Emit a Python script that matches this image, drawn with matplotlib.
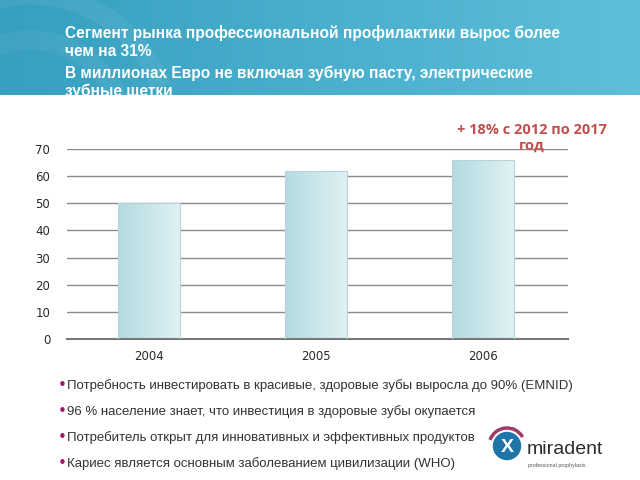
import numpy as np
import matplotlib.pyplot as plt
from matplotlib.patches import Circle, Arc
from matplotlib.colors import LinearSegmentedColormap

years = ["2004", "2005", "2006"]
sales = [50, 62, 66]
yticks = [0, 10, 20, 30, 40, 50, 60, 70]

title_lines = [
    "Сегмент рынка профессиональной профилактики вырос более",
    "чем на 31%",
    "В миллионах Евро не включая зубную пасту, электрические",
    "зубные щетки",
]
note = "+ 18% с 2012 по 2017\nгод"
bullets = [
    "Потребность инвестировать в красивые, здоровые зубы выросла до 90% (EMNID)",
    "96 % население знает, что инвестиция в здоровые зубы окупается",
    "Потребитель открыт для инновативных и эффективных продуктов",
    "Кариес является основным заболеванием цивилизации (WHO)",
]

fig = plt.figure(figsize=(6.4, 4.8), dpi=100)
fig.patch.set_facecolor("white")

# header band with gradient
hdr = fig.add_axes([0, 1 - 95 / 480, 1, 95 / 480])
grad = np.linspace(0, 1, 256).reshape(1, -1)
hcmap = LinearSegmentedColormap.from_list("hdr", ["#379fbf", "#48afcd", "#5fbfd8"])
hdr.imshow(grad, cmap=hcmap, aspect="auto", extent=[0, 640, 0, 95])
for r, a in [(140, 0.06), (95, 0.05)]:
    hdr.add_patch(Arc((30, -40), 2 * r, 2 * r, theta1=20, theta2=175, lw=14, color="white", alpha=a))
hdr.set_xlim(0, 640)
hdr.set_ylim(0, 95)
hdr.axis("off")

ty = [33, 52, 73, 91]
for line, y in zip(title_lines, ty):
    fig.text(65 / 640, 1 - y / 480, line, color="white", fontsize=11.2, fontweight="bold",
             family="Liberation Sans", va="center", ha="left")

# chart
ax = fig.add_axes([67 / 640, 1 - 339 / 480, 501 / 640, 190 / 480])
x = np.arange(len(years))
bars = ax.bar(x, sales, width=0.37, color="none", edgecolor="#b8d4d9", lw=0.8, zorder=3)
bcmap = LinearSegmentedColormap.from_list("bar", ["#b3dbe1", "#c9e6ea", "#e0f1f3"])
for b in bars:
    x0, w, h = b.get_x(), b.get_width(), b.get_height()
    im = ax.imshow(grad, cmap=bcmap, aspect="auto", extent=[x0, x0 + w, 0, h], zorder=2)
    im.set_clip_path(b)
ax.set_xlim(-0.49, 2.51)
ax.set_ylim(0, 70)
ax.set_yticks(yticks)
ax.set_xticks(x)
ax.set_xticklabels(years)
ax.grid(axis="y", color="#8c8c8c", lw=1.0, zorder=1)
ax.set_axisbelow(True)
for s in ["top", "right", "left"]:
    ax.spines[s].set_visible(False)
ax.spines["bottom"].set_color("#777777")
ax.spines["bottom"].set_linewidth(1.5)
ax.tick_params(length=0, labelcolor="#2a2a2a")
ax.tick_params(axis="x", pad=8)
ax.tick_params(axis="y", pad=12)
for lab in ax.get_xticklabels() + ax.get_yticklabels():
    lab.set_family("DejaVu Sans")
    lab.set_fontsize(8.5)

fig.text(532 / 640, 1 - 138 / 480, note, color="#c0504d", fontsize=10.5, fontweight="bold",
         family="Open Sans", ha="center", va="center", linespacing=1.1)

# bullets
by = [386, 412, 438, 464]
for t, y in zip(bullets, by):
    fig.text(58 / 640, 1 - y / 480, "•", color="#a3146e", fontsize=11, va="center", ha="left",
             family="DejaVu Sans")
    fig.text(67 / 640, 1 - y / 480, t, color="#333333", fontsize=9.5, va="center", ha="left",
             family="Liberation Sans")

# logo
lg = fig.add_axes([480 / 640, 1 - 478 / 480, 160 / 640, 68 / 480])
lg.set_xlim(480, 640)
lg.set_ylim(478, 410)
lg.axis("off")
lg.add_patch(Circle((507, 446), 13.5, color="#1f74a8"))
lg.add_patch(Arc((507, 446), 36, 36, theta1=200, theta2=330, lw=2.5, color="#a03a68"))
lg.text(507, 447, "X", color="white", fontsize=14, fontweight="bold", ha="center", va="center",
        family="Liberation Sans")
lg.text(527, 449, "miradent", color="#2d2d2d", fontsize=14, ha="left", va="center",
        family="Liberation Sans")
lg.text(528, 465, "professional prophylaxis", color="#555555", fontsize=3.8, ha="left", va="center",
        family="Liberation Sans")

fig.savefig("out.png", dpi=100)
